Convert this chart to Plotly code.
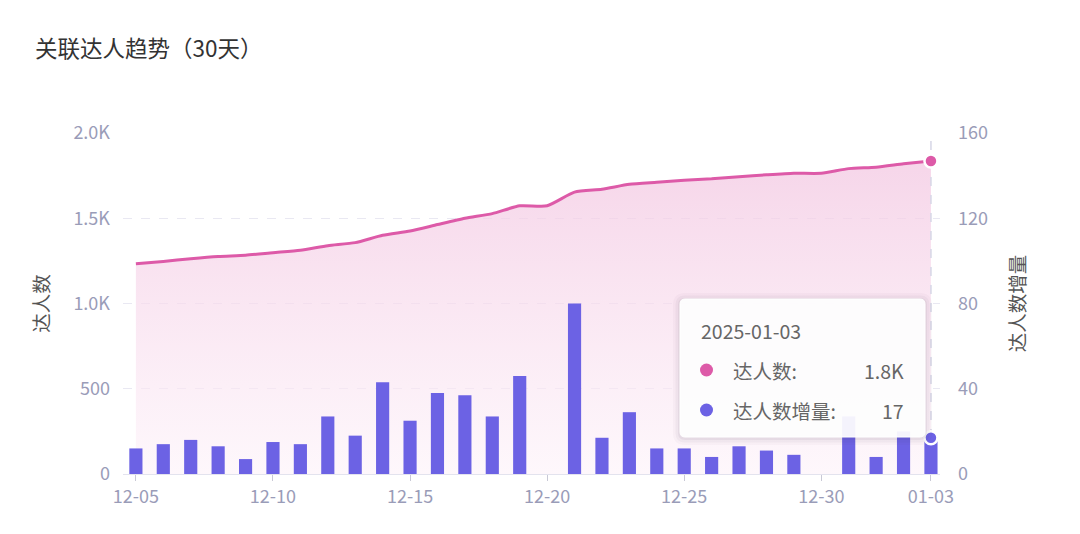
import plotly.graph_objects as go

dates = ["12-05", "12-06", "12-07", "12-08", "12-09", "12-10", "12-11", "12-12", "12-13", "12-14",
         "12-15", "12-16", "12-17", "12-18", "12-19", "12-20", "12-21", "12-22", "12-23", "12-24",
         "12-25", "12-26", "12-27", "12-28", "12-29", "12-30", "12-31", "01-01", "01-02", "01-03"]
talent_count = [1233, 1247, 1263, 1276, 1283, 1298, 1312, 1339, 1357, 1400,
                1425, 1463, 1500, 1527, 1573, 1573, 1653, 1670, 1699, 1711,
                1723, 1731, 1744, 1755, 1764, 1764, 1791, 1799, 1819, 1836]
talent_increase = [12, 14, 16, 13, 7, 15, 14, 27, 18, 43,
                   25, 38, 37, 27, 46, 0, 80, 17, 29, 12,
                   12, 8, 13, 11, 9, 0, 27, 8, 20, 17]
tick_labels = ["12-05", "12-10", "12-15", "12-20", "12-25", "12-30", "01-03"]
left_ticks = [0, 500, 1000, 1500, 2000]
left_tick_text = ["0", "500", "1.0K", "1.5K", "2.0K"]
right_ticks = [0, 40, 80, 120, 160]

PINK = "#dd5aa8"
PURPLE = "#6c62e4"
TICK_COLOR = "#9a9cb8"
GRID = "#e9e8f2"
FONT = "Noto Sans CJK SC, Noto Sans, sans-serif"

# the page body has an 8px margin, so the figure is offset by 8px in the screenshot
OFF = 8
W, H = 1080, 534
# plot area in screenshot pixels
SL, SR, ST, SB = 123, 940, 133, 474
PW, PH = SR - SL, SB - ST


def px(x):
    return (x - SL) / PW


def py(y):
    return (SB - y) / PH


fig = go.Figure()

fig.add_trace(go.Scatter(
    x=dates, y=talent_count, name="达人数", mode="lines",
    line=dict(color=PINK, width=3, shape="spline", smoothing=0.6),
    fill="tozeroy",
    fillgradient=dict(type="vertical",
                      colorscale=[[0, "rgba(253,242,249,0.6)"], [1, "rgba(243,200,226,0.75)"]]),
    yaxis="y", hoverinfo="skip",
))
# axis pointer (vertical dashed line at the hovered date)
fig.add_trace(go.Scatter(
    x=[dates[-1], dates[-1]], y=[0, 2000], mode="lines", yaxis="y",
    line=dict(color="#d6d6e6", width=1.5, dash="dash"), hoverinfo="skip",
))
fig.add_trace(go.Scatter(
    x=[dates[-1]], y=[talent_count[-1]], mode="markers", yaxis="y",
    marker=dict(color=PINK, size=13, line=dict(color="white", width=2.5)), hoverinfo="skip",
))
fig.add_trace(go.Bar(
    x=dates, y=talent_increase, name="达人数增量", marker=dict(color=PURPLE, line=dict(width=0)),
    width=0.48, yaxis="y2", hoverinfo="skip",
))
fig.add_trace(go.Scatter(
    x=[dates[-1]], y=[talent_increase[-1]], mode="markers", yaxis="y2",
    marker=dict(color=PURPLE, size=13, line=dict(color="white", width=2.5)), hoverinfo="skip",
))

shapes = []


def rounded_rect(x0, y0, x1, y1, r):
    X0, X1 = px(x0), px(x1)
    Y0, Y1 = py(y0), py(y1)
    rx, ry = r / PW, r / PH
    return (f"M {X0+rx},{Y0} L {X1-rx},{Y0} Q {X1},{Y0} {X1},{Y0-ry} "
            f"L {X1},{Y1+ry} Q {X1},{Y1} {X1-rx},{Y1} L {X0+rx},{Y1} "
            f"Q {X0},{Y1} {X0},{Y1+ry} L {X0},{Y0-ry} Q {X0},{Y0} {X0+rx},{Y0} Z")


for i, op in enumerate([0.055, 0.04, 0.028]):
    g = 2 + i * 2.5
    shapes.append(dict(type="path", xref="paper", yref="paper",
                       path=rounded_rect(680 - g, 299 - g + 1, 925 + g, 437 + g + 1, 5 + g),
                       fillcolor=f"rgba(60,40,80,{op})", line=dict(width=0), layer="above"))
shapes.append(dict(type="path", xref="paper", yref="paper",
                   path=rounded_rect(680, 299, 925, 437, 5),
                   fillcolor="rgba(255,255,255,0.93)", line=dict(color="rgba(255,255,255,1)", width=1),
                   layer="above"))
for cy, col in [(370, PINK), (410, PURPLE)]:
    r = 6.5
    shapes.append(dict(type="circle", xref="paper", yref="paper",
                       x0=px(706.5 - r), x1=px(706.5 + r), y0=py(cy + r), y1=py(cy - r),
                       fillcolor=col, line=dict(width=0), layer="above"))

tt_font = dict(family=FONT, size=19.5, color="#666666")
annotations = [
    dict(text="关联达人趋势（30天）", xref="paper", yref="paper", x=px(33), y=py(47),
         xanchor="left", yanchor="middle", showarrow=False,
         font=dict(family=FONT, size=22.5, color="#333333")),
    dict(text="2025-01-03", xref="paper", yref="paper", x=px(699), y=py(330),
         xanchor="left", yanchor="middle", showarrow=False, font=tt_font),
    dict(text="达人数:", xref="paper", yref="paper", x=px(731), y=py(370),
         xanchor="left", yanchor="middle", showarrow=False, font=tt_font),
    dict(text="1.8K", xref="paper", yref="paper", x=px(906), y=py(370),
         xanchor="right", yanchor="middle", showarrow=False, font=tt_font),
    dict(text="达人数增量:", xref="paper", yref="paper", x=px(731), y=py(410),
         xanchor="left", yanchor="middle", showarrow=False, font=tt_font),
    dict(text=str(talent_increase[-1]), xref="paper", yref="paper", x=px(906), y=py(410),
         xanchor="right", yanchor="middle", showarrow=False, font=tt_font),
]

fig.update_layout(
    width=W, height=H,
    margin=dict(l=SL - OFF, r=W + OFF - SR, t=ST - OFF, b=H + OFF - SB),
    paper_bgcolor="white", plot_bgcolor="white",
    showlegend=False,
    font=dict(family=FONT, color=TICK_COLOR),
    xaxis=dict(type="category", range=[-0.47, len(dates) - 1 + 0.33],
               tickmode="array", tickvals=tick_labels, ticktext=tick_labels,
               showgrid=False, zeroline=False, showline=True, linecolor="#e3e3ee", linewidth=1,
               ticks="outside", ticklen=6, tickcolor="#c9c9d6",
               tickfont=dict(size=18, color=TICK_COLOR)),
    yaxis=dict(range=[0, 2000], tickvals=left_ticks, ticktext=left_tick_text,
               showgrid=True, gridcolor=GRID, griddash="dash", gridwidth=1.3,
               zeroline=False, showline=False, ticks="", ticklabelstandoff=12,
               tickfont=dict(size=18, color=TICK_COLOR),
               title=dict(text="达人数", standoff=18, font=dict(size=19.5, color="#555555"))),
    yaxis2=dict(range=[0, 160], tickvals=right_ticks, overlaying="y", side="right",
                showgrid=False, zeroline=False, showline=False, ticks="", ticklabelstandoff=17,
                tickfont=dict(size=18, color=TICK_COLOR),
                title=dict(text="达人数增量", standoff=24, font=dict(size=19.5, color="#555555"))),
    shapes=shapes,
    annotations=annotations,
)

fig.write_html("out.html")
